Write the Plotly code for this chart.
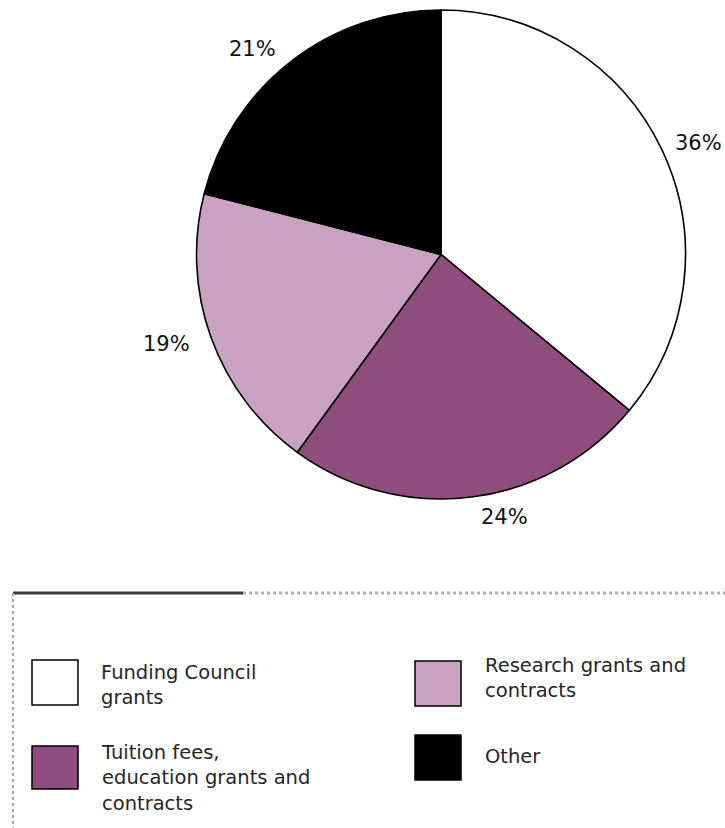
import plotly.graph_objects as go

# Income sources and their shares (%)
categories = [
    "Funding Council grants",
    "Tuition fees, education grants and contracts",
    "Research grants and contracts",
    "Other",
]
shares = [36, 24, 19, 21]

# Legend text, wrapped as printed
legend_text = [
    "Funding Council<br>grants",
    "Tuition fees,<br>education grants and<br>contracts",
    "Research grants and<br>contracts",
    "Other",
]

slice_colors = ["#ffffff", "#8e4d7d", "#c9a2c3", "#000000"]

W, H = 725, 828
FONT = "DejaVu Sans"


def px(x):
    return x / W


def py(y):
    return 1 - y / H


# pie geometry (pixels)
cx, cy, r = 441, 254.5, 244.5

fig = go.Figure()
fig.add_trace(
    go.Pie(
        labels=categories,
        values=shares,
        sort=False,
        direction="clockwise",
        rotation=0,
        marker=dict(colors=slice_colors, line=dict(color="#000000", width=1.6)),
        textinfo="none",
        hoverinfo="label+percent",
        showlegend=False,
        domain=dict(x=[px(cx - r), px(cx + r)], y=[py(cy + r), py(cy - r)]),
    )
)

# percentage label anchors (pixels, x with its anchor, middle y)
label_pos = [(724, 143, "right"), (504, 517, "center"), (166, 344, "center"), (252, 49, "center")]
for v, (lx, ly, anchor) in zip(shares, label_pos):
    fig.add_annotation(
        x=px(lx), y=py(ly), xref="paper", yref="paper",
        text=f"{v}%", showarrow=False, xanchor=anchor, yanchor="middle",
        font=dict(family=FONT, size=21, color="#111111"),
    )

shapes = []
# legend frame
shapes.append(dict(type="line", xref="paper", yref="paper",
                   x0=px(13), x1=px(243), y0=py(593), y1=py(593),
                   line=dict(color="#3a3a3a", width=3)))
shapes.append(dict(type="line", xref="paper", yref="paper",
                   x0=px(243), x1=px(725), y0=py(593), y1=py(593),
                   line=dict(color="#b0b0b0", width=3, dash="dot")))
shapes.append(dict(type="line", xref="paper", yref="paper",
                   x0=px(13), x1=px(13), y0=py(593), y1=py(828),
                   line=dict(color="#a8a8a8", width=2, dash="dot")))

# legend swatches: (left x, top y, bottom y) in pixels, and text block centres
swatch_pos = [(32, 660, 705), (32, 746, 789), (415, 661, 706), (415, 735, 780)]
text_pos = [(99, 685), (99, 778), (483, 678), (483, 756)]
for i, cat in enumerate(categories):
    sx, top, bot = swatch_pos[i]
    shapes.append(dict(type="rect", xref="paper", yref="paper",
                       x0=px(sx), x1=px(sx + 46), y0=py(bot), y1=py(top),
                       fillcolor=slice_colors[i],
                       line=dict(color="#000000", width=1.5)))
    tx, ty = text_pos[i]
    fig.add_annotation(
        x=px(tx), y=py(ty), xref="paper", yref="paper",
        text=legend_text[i], showarrow=False, xanchor="left", yanchor="middle",
        align="left",
        font=dict(family=FONT, size=19.5, color="#262626"),
    )

fig.update_layout(
    width=W, height=H,
    margin=dict(l=0, r=0, t=0, b=0),
    paper_bgcolor="#ffffff",
    plot_bgcolor="#ffffff",
    shapes=shapes,
)

fig.write_html("out.html")
